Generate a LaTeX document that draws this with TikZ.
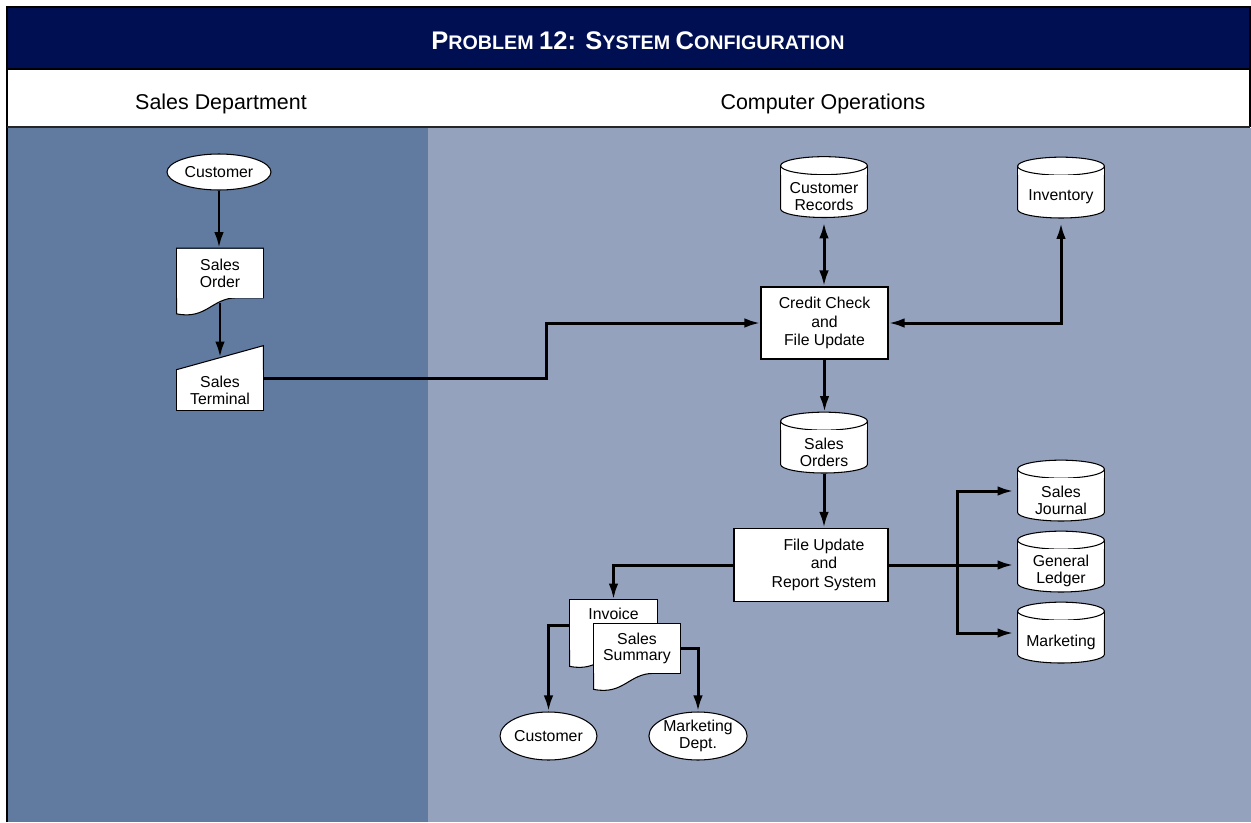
\documentclass[tikz,border=0pt]{standalone}
\usepackage{fontspec}
\setmainfont{Liberation Sans}
\usetikzlibrary{arrows.meta,positioning,calc,shapes.geometric}
\definecolor{titlenavy}{RGB}{0,15,82}
\definecolor{salesblue}{RGB}{96,122,160}
\definecolor{opsblue}{RGB}{148,162,190}
\newcommand{\capbig}[1]{{\fontsize{14.5}{16}\selectfont #1}}

\begin{document}
\begin{tikzpicture}[x=0.02cm, y=-0.02cm, font=\fontsize{9}{9.5}\selectfont,
  >={Latex[length=3.2mm,width=1.9mm]},
  flow/.style={->, line width=1.7pt},
  proc/.style={draw, fill=white, line width=0.6pt, align=center,
               font=\fontsize{9}{10.5}\selectfont},
  term/.style={ellipse, draw, fill=white, line width=0.6pt, inner sep=0pt, align=center},
  % disk: node box runs from the front of the top cap to the bottom of the drum
  disk/.style={inner sep=0pt, align=center, minimum width=1.76cm, minimum height=0.86cm,
    path picture={\fill[white, draw=black, line width=0.6pt]
      ($(path picture bounding box.north west)+(0.6,-2)$)
        -- ($(path picture bounding box.south west)+(0.6,-9)$)
        arc[start angle=180, end angle=360, x radius=0.868cm, y radius=0.17cm]
        -- ($(path picture bounding box.north east)+(-0.6,-2)$);},
    append after command={\pgfextra{
      \fill[white] ($(\tikzlastnode.north west)+(0.6,1)$) -- ($(\tikzlastnode.north west)+(0.6,-9)$)
        -- ($(\tikzlastnode.north east)+(-0.6,-9)$) -- ($(\tikzlastnode.north east)+(-0.6,1)$) -- cycle;
      \draw[line width=0.6pt, fill=white] ($(\tikzlastnode.north)+(0,-9)$)
        ellipse [x radius=0.868cm, y radius=0.18cm];
      \draw[line width=0.6pt] ($(\tikzlastnode.north west)+(0.6,1)$) -- ($(\tikzlastnode.north west)+(0.6,-9)$)
        ($(\tikzlastnode.north east)+(-0.6,1)$) -- ($(\tikzlastnode.north east)+(-0.6,-9)$);}}},
  docu/.style={fill=white, inner sep=0pt, minimum width=1.72cm, minimum height=0.98cm,
    append after command={\pgfextra{
      \fill[white] ($(\tikzlastnode.south west)+(0,-1)$) -- ($(\tikzlastnode.south west)+(0,16)$)
        .. controls ($(\tikzlastnode.south west)+(30,22)$) and ($(\tikzlastnode.south west)+(35,0)$)
        .. ($(\tikzlastnode.south west)+(60,0)$) -- (\tikzlastnode.south east)
        -- ($(\tikzlastnode.south east)+(0,-1)$) -- cycle;
      \draw[line width=0.6pt] (\tikzlastnode.south west) -- ($(\tikzlastnode.south west)+(0,16)$)
        .. controls ($(\tikzlastnode.south west)+(30,22)$) and ($(\tikzlastnode.south west)+(35,0)$)
        .. ($(\tikzlastnode.south west)+(60,0)$) -- (\tikzlastnode.south east)
        -- (\tikzlastnode.north east) -- (\tikzlastnode.north west) -- cycle;}}},
  manin/.style={fill=white, inner sep=0pt, align=center, minimum width=1.72cm, minimum height=0.8cm,
    append after command={\pgfextra{
      \fill[white] ($(\tikzlastnode.north west)+(0,1)$) -- (\tikzlastnode.north west)
        -- ($(\tikzlastnode.north east)+(0,-24)$) -- ($(\tikzlastnode.north east)+(0,1)$) -- cycle;
      \draw[line width=0.6pt] (\tikzlastnode.north west) -- ($(\tikzlastnode.north east)+(0,-24)$)
        -- (\tikzlastnode.south east) -- (\tikzlastnode.south west) -- cycle;}}}]
\useasboundingbox (0,0) rectangle (1251,822);

% lanes and header
\fill[salesblue] (7,128) rectangle (428,822);
\fill[opsblue] (428,128) rectangle (1251,822);
\fill[titlenavy] (7,7) rectangle (1251,68);
\draw[line width=1.1pt] (7,822) -- (7,7) -- (1250,7) -- (1250,127);
\draw[line width=1.2pt] (7,69) -- (1250,69);
\draw[line width=1.2pt, black!85] (7,127) -- (1250,127);
\node[text=white, font=\bfseries\fontsize{11.2}{13}\selectfont] (title) at (638,41)
  {\capbig{P}ROBLEM \capbig{12: S}YSTEM \capbig{C}ONFIGURATION};
\node[font=\fontsize{12.2}{14}\selectfont] (salesdept) at (221,104) {Sales Department};
\node[font=\fontsize{12.2}{14}\selectfont] (compops) at (823,104) {Computer Operations};

% sales department
\node[term, minimum width=2.08cm, minimum height=0.72cm] (cust) at (219,172) {Customer};
\node[docu, align=center] (order) at (220,273) {Sales\\Order};
\node[manin] (terminal) at (220,390) {Sales\\Terminal};

% computer operations
\node[proc, minimum width=2.54cm, minimum height=1.44cm] (check) at (824.5,323) {Credit Check\\and\\File Update};
\node[disk] (custrec) at (824,196.5) {Customer\\Records};
\node[disk] (invent) at (1061,197) {Inventory};
\node[disk] (orders) at (824,452) {Sales\\Orders};
\node[proc, minimum width=3.08cm, minimum height=1.46cm] (report) at (811,565)
  {\hspace*{0.52cm}\begin{tabular}{@{}c@{}}File Update\\and\\Report System\end{tabular}};
\node[disk] (journal) at (1061,500) {Sales\\Journal};
\node[disk] (ledger) at (1061,571) {General\\Ledger};
\node[disk] (mkt) at (1061,642) {Marketing};
\node[docu, minimum width=1.74cm, minimum height=1.0cm, text depth=12.4pt] (invoice) at (613.5,625) {Invoice};
\node[docu, align=center] (summary) at (637,648.5) {Sales\\Summary};
\node[term, minimum width=1.86cm, minimum height=0.96cm] (cust2) at (548.5,736) {Customer};
\node[term, minimum width=1.88cm, minimum height=0.96cm] (mktdept) at (698,736) {Marketing\\Dept.};

% connectors
\draw[flow] (cust.south) -- (cust.south |- order.north);
\draw[flow] ($(order.south)+(0,5)$) -- ($(terminal.north)+(0,-12)$);
\draw[flow] ($(terminal.east)+(0,-12)$) -- ++(283,0) |- (check.west);
\draw[flow, <->, shorten <=0.08cm] (custrec.south) -- (custrec.south |- check.north);
\draw[flow, <->, shorten >=0.08cm] (check.east) -| (invent.south);
\draw[flow] (check.south) -- ($(check.south |- orders.north)+(0,-18)$);
\draw[flow] (orders.south) -- (orders.south |- report.north);
\coordinate (split) at ($(report.east)+(69,0)$);
\draw[flow, shorten >=0.06cm] (report.east) -- (report.east -| ledger.west);
\draw[flow, shorten >=0.06cm] (split) |- ($(journal.west)+(0,-9)$);
\draw[flow, shorten >=0.06cm] (split) |- ($(mkt.west)+(0,-9)$);
\draw[flow] (report.west) -| (invoice.north);
\draw[flow] (invoice.west) -| (cust2.north);
\draw[flow] (summary.east) -| (mktdept.north);
\end{tikzpicture}
\end{document}
